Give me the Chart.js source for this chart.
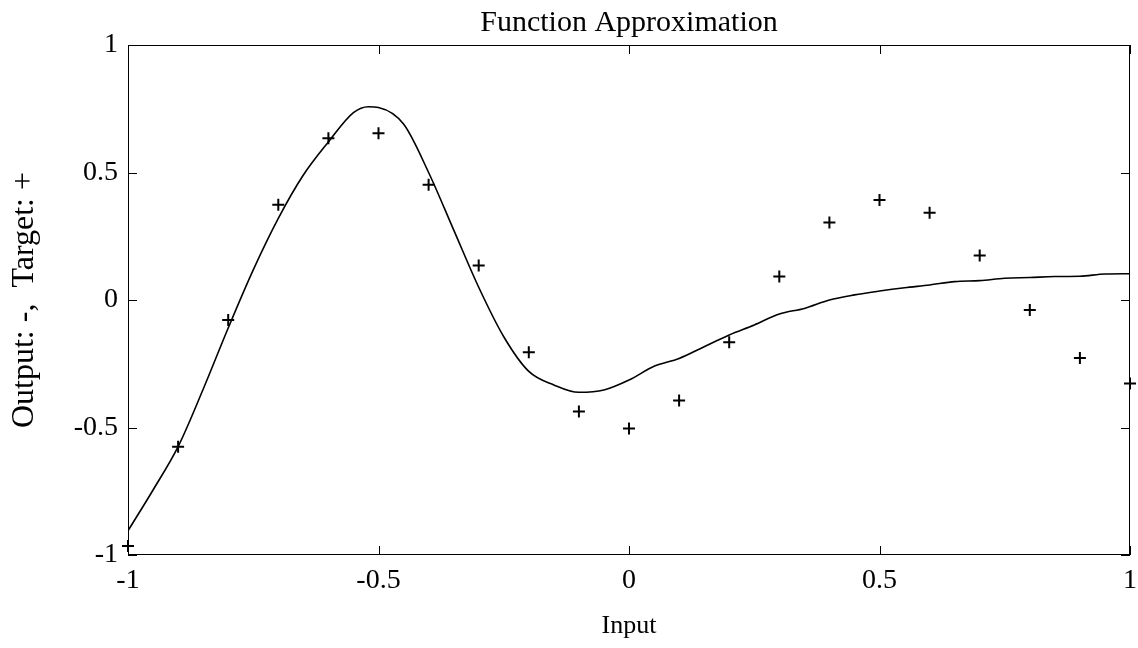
<!DOCTYPE html>
<html>
<head>
<meta charset="utf-8">
<script src="https://cdn.jsdelivr.net/npm/chart.js@4.4.0/dist/chart.umd.min.js"></script>
<style>
  html, body { margin: 0; padding: 0; background: #fff; }
  #wrap { width: 1138px; height: 648px; }
</style>
</head>
<body>
<div id="wrap"><canvas id="approx"></canvas></div>
<script>
// target points (+)
var targetX = [-1, -0.9, -0.8, -0.7, -0.6, -0.5, -0.4, -0.3, -0.2, -0.1, 0,
               0.1, 0.2, 0.3, 0.4, 0.5, 0.6, 0.7, 0.8, 0.9, 1];
var targetY = [-0.965, -0.575, -0.078, 0.374, 0.634, 0.654, 0.452, 0.135, -0.205, -0.437, -0.504,
               -0.394, -0.166, 0.092, 0.304, 0.392, 0.342, 0.175, -0.039, -0.227, -0.327];

// network output (-)
var outputX = [-1, -0.95, -0.9, -0.85, -0.8, -0.75, -0.7, -0.65, -0.6, -0.55, -0.52, -0.5,
               -0.45, -0.4, -0.35, -0.3, -0.25, -0.2, -0.15, -0.1, -0.05, 0,
               0.05, 0.1, 0.15, 0.2, 0.25, 0.3, 0.35, 0.4, 0.45, 0.5,
               0.55, 0.6, 0.65, 0.7, 0.75, 0.8, 0.85, 0.9, 0.95, 1];
var outputY = [-0.905, -0.745, -0.575, -0.35, -0.11, 0.118, 0.32, 0.49, 0.62, 0.735, 0.758, 0.755,
               0.69, 0.50, 0.275, 0.05, -0.144, -0.28, -0.333, -0.362, -0.353, -0.314,
               -0.26, -0.229, -0.183, -0.137, -0.098, -0.055, -0.033, 0.0, 0.02, 0.035,
               0.048, 0.059, 0.072, 0.076, 0.085, 0.088, 0.092, 0.093, 0.102, 0.103];

var xTicks = [-1, -0.5, 0, 0.5, 1];
var yTicks = [-1, -0.5, 0, 0.5, 1];

var serif = '"Liberation Serif", "Times New Roman", serif';

function pts(xs, ys) {
    var out = [];
    for (var i = 0; i < xs.length; i++) out.push({x: xs[i], y: ys[i]});
    return out;
}

// box round the plot + ticks pointing inwards on all four sides
var boxTicks = {
    id: 'boxTicks',
    afterDatasetsDraw: function (chart) {
        var c = chart.ctx, a = chart.chartArea;
        var sx = chart.scales.x, sy = chart.scales.y;
        var len = 9;
        c.save();
        c.strokeStyle = '#000';
        c.lineWidth = 1;
        c.strokeRect(a.left + 0.5, a.top + 0.5, a.right - a.left - 1, a.bottom - a.top - 1);
        c.beginPath();
        xTicks.forEach(function (v) {
            var px = Math.round(sx.getPixelForValue(v)) + 0.5;
            c.moveTo(px, a.bottom); c.lineTo(px, a.bottom - len);
            c.moveTo(px, a.top); c.lineTo(px, a.top + len);
        });
        yTicks.forEach(function (v) {
            var py = Math.round(sy.getPixelForValue(v)) + 0.5;
            c.moveTo(a.left, py); c.lineTo(a.left + len, py);
            c.moveTo(a.right, py); c.lineTo(a.right - len, py);
        });
        c.stroke();
        c.restore();
    }
};

var ctx = document.getElementById('approx');
var approxChart = new Chart(ctx, {
    type: 'scatter',
    data: {
        datasets: [{
            label: 'Output',
            data: pts(outputX, outputY),
            showLine: true,
            borderColor: '#000',
            borderWidth: 1.6,
            pointRadius: 0,
            cubicInterpolationMode: 'monotone'
        }, {
            label: 'Target',
            data: pts(targetX, targetY),
            showLine: false,
            pointStyle: 'cross',
            pointRadius: 6,
            borderColor: '#000',
            borderWidth: 2,
            clip: false
        }]
    },
    options: {
        responsive: true,
        maintainAspectRatio: false,
        animation: false,
        layout: {
            padding: 0
        },
        plugins: {
            legend: {display: false},
            tooltip: {enabled: false},
            title: {
                display: true,
                text: 'Function Approximation',
                color: '#000',
                fullSize: false,
                font: {family: serif, size: 30, weight: 'normal'},
                padding: {top: 5, bottom: 4}
            }
        },
        scales: {
            x: {
                type: 'linear',
                min: -1,
                max: 1,
                afterBuildTicks: function (s) {
                    s.ticks = xTicks.map(function (v) { return {value: v}; });
                },
                afterFit: function (s) {
                    s.height = 93;
                    s.paddingLeft = 0;
                    s.paddingRight = 8;
                },
                grid: {display: false, drawTicks: false},
                border: {display: false},
                ticks: {
                    color: '#000',
                    padding: 9,
                    maxRotation: 0,
                    font: {family: serif, size: 28},
                    callback: function (v) { return String(v); }
                },
                title: {
                    display: true,
                    text: 'Input',
                    color: '#000',
                    font: {family: serif, size: 26},
                    padding: {top: 4, bottom: 6}
                }
            },
            y: {
                type: 'linear',
                min: -1,
                max: 1,
                afterBuildTicks: function (s) {
                    s.ticks = yTicks.map(function (v) { return {value: v}; });
                },
                afterFit: function (s) {
                    s.width = 128;
                    s.paddingTop = 0;
                    s.paddingBottom = 0;
                },
                grid: {display: false, drawTicks: false},
                border: {display: false},
                ticks: {
                    color: '#000',
                    padding: 10,
                    font: {family: serif, size: 28},
                    callback: function (v) { return String(v); }
                },
                title: {
                    display: true,
                    text: 'Output: -,  Target: +',
                    color: '#000',
                    font: {family: serif, size: 32},
                    padding: {top: 5, bottom: 4}
                }
            }
        }
    },
    plugins: [boxTicks]
});
</script>
</body>
</html>
